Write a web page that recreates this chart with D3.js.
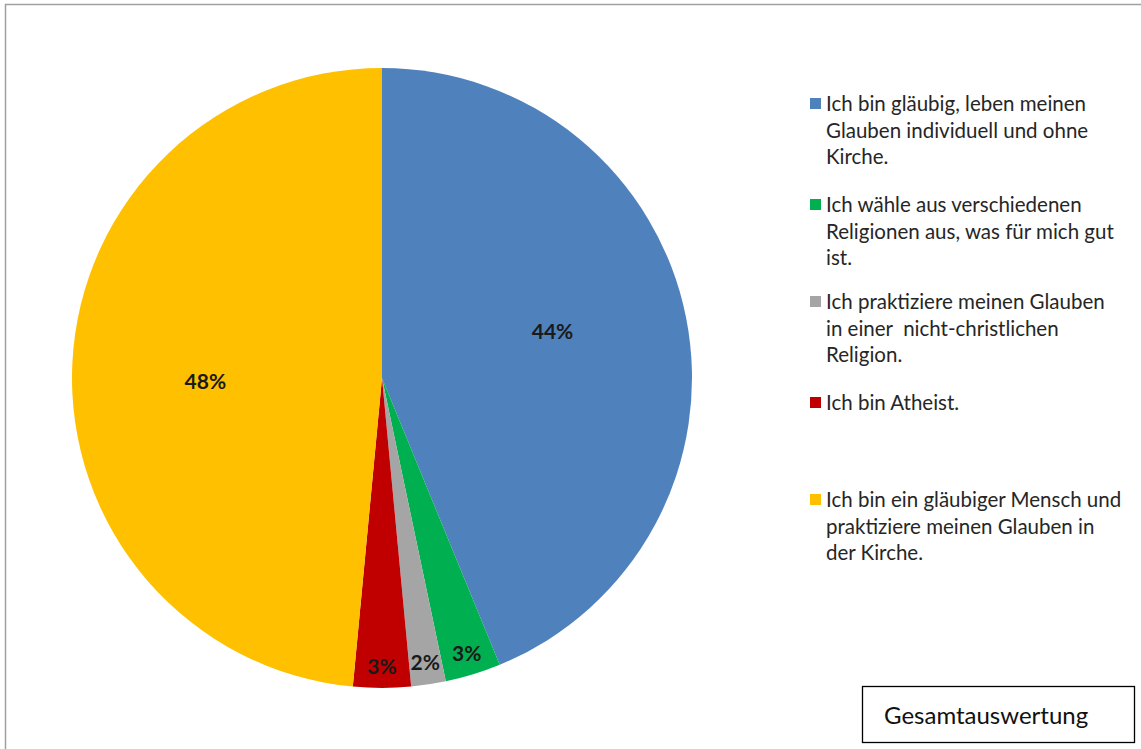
<!DOCTYPE html>
<html>
<head>
<meta charset="utf-8">
<script src="https://cdn.jsdelivr.net/npm/d3@7"></script>
<style>
  body { margin: 0; background: #fff; }
  text { font-family: Lato, "Open Sans", sans-serif; }
</style>
</head>
<body>
<svg id="fig_pie" width="1141" height="749"></svg>
<script>
var categories = [
    ["Ich bin gläubig, leben meinen", "Glauben individuell und ohne", "Kirche."],
    ["Ich wähle aus verschiedenen", "Religionen aus, was für mich gut", "ist."],
    ["Ich praktiziere meinen Glauben", "in einer  nicht-christlichen", "Religion."],
    ["Ich bin Atheist."],
    ["Ich bin ein gläubiger Mensch und", "praktiziere meinen Glauben in", "der Kirche."]
];
var values = [43.8, 2.9, 1.8, 3.0, 48.5];
var labels = ["44%", "3%", "2%", "3%", "48%"];
var colors = ["#4F81BD", "#00B050", "#A5A5A5", "#C00000", "#FFC000"];
var legend_y = [104, 205, 302, 403, 500];
var box_title = "Gesamtauswertung";

var svg = d3.select("#fig_pie");

// outer frame (only top & left are visible)
svg.append("path")
   .attr("d", "M5.5,749 L5.5,4.5 L1141,4.5")
   .attr("fill", "none")
   .attr("stroke", "#a0a0a0")
   .attr("stroke-width", 1.5);

var cx = 382, cy = 378, r = 310;

var pie = d3.pie().sort(null).value(function(d){ return d; });
var arcs = pie(values);
var arc = d3.arc().innerRadius(0).outerRadius(r);

var g = svg.append("g").attr("transform", "translate(" + cx + "," + cy + ")");

g.selectAll("path")
  .data(arcs)
  .enter().append("path")
    .attr("d", arc)
    .attr("fill", function(d, i){ return colors[i]; });

// big slices: label inside (best fit, a bit off the middle); small ones near the rim
g.selectAll("text.lbl")
  .data(arcs)
  .enter().append("text")
    .attr("class", "lbl")
    .attr("transform", function(d){
        var big = d.value > 10;
        var rr = big ? r * 0.57 : r * 0.93;
        var a = (d.startAngle + d.endAngle) / 2 - (big ? 0.07 : 0);
        return "translate(" + (Math.sin(a) * rr) + "," + (-Math.cos(a) * rr) + ")";
    })
    .attr("text-anchor", "middle")
    .attr("dy", ".35em")
    .style("font-size", "21px")
    .style("font-weight", "bold")
    .style("fill", "#1a1a1a")
    .text(function(d, i){ return labels[i]; });

// legend
var lg = svg.append("g");
categories.forEach(function(lines, i){
    lg.append("rect")
      .attr("x", 810)
      .attr("y", legend_y[i] - 6)
      .attr("width", 11)
      .attr("height", 11)
      .attr("fill", colors[i]);
    lines.forEach(function(s, j){
        lg.append("text")
          .attr("x", 826)
          .attr("y", legend_y[i] + j * 26.5)
          .attr("dy", ".35em")
          .attr("xml:space", "preserve")
          .style("font-size", "20.5px")
          .style("fill", "#262626")
          .text(s);
    });
});

// title box
svg.append("rect")
   .attr("x", 862.5).attr("y", 686.5)
   .attr("width", 272).attr("height", 56)
   .attr("fill", "#fff")
   .attr("stroke", "#000")
   .attr("stroke-width", 1.3);
svg.append("text")
   .attr("x", 884).attr("y", 716)
   .attr("dy", ".35em")
   .style("font-size", "24px")
   .style("fill", "#111")
   .text(box_title);
</script>
</body>
</html>
